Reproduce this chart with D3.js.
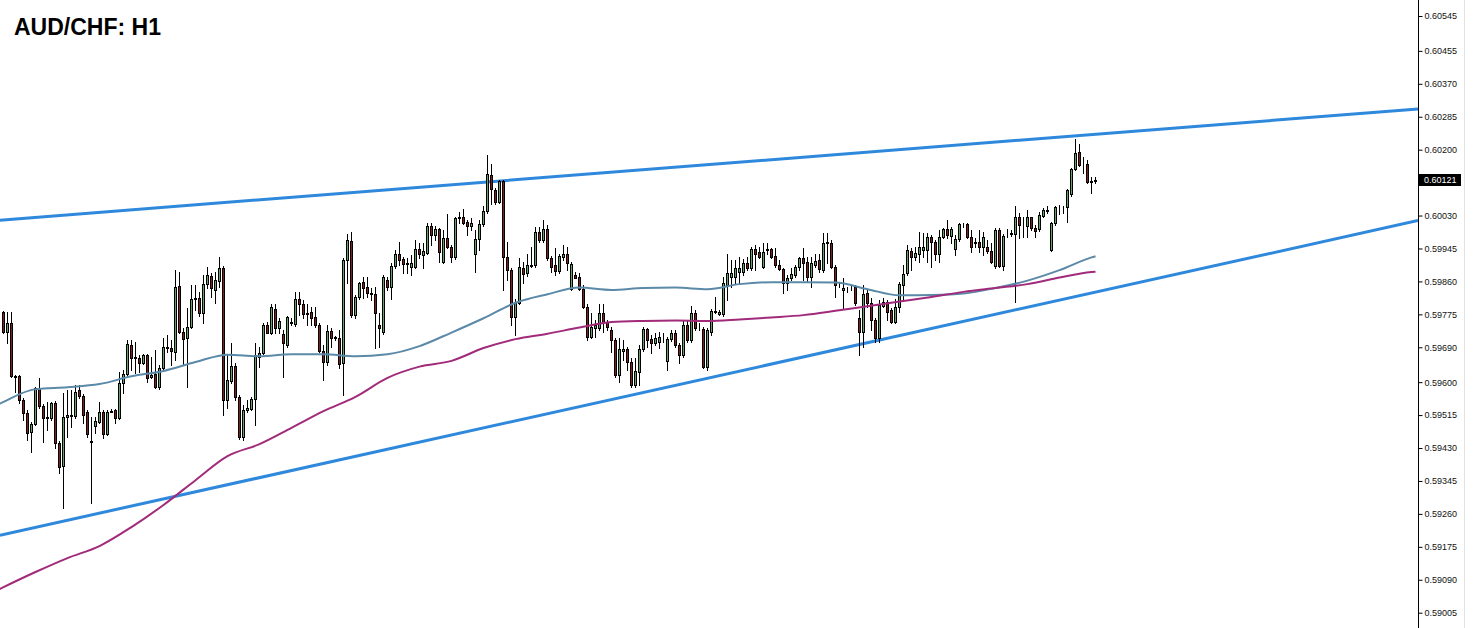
<!DOCTYPE html>
<html><head><meta charset="utf-8">
<script src="https://cdn.jsdelivr.net/npm/d3@7"></script>
<style>html,body{margin:0;padding:0;background:#fff;overflow:hidden}</style>
</head><body>
<svg id="c" width="1483" height="628"></svg>
<script>
// ---- DATA (AUD/CHF H1 candles) ----
const open=[0.59782,0.59730,0.59752,0.59616,0.59616,0.59554,0.59520,0.59472,0.59491,0.59584,
0.59538,0.59507,0.59507,0.59545,0.59442,0.59384,0.59510,0.59515,0.59513,0.59580,
0.59564,0.59522,0.59446,0.59487,0.59498,0.59524,0.59465,0.59524,0.59528,0.59508,
0.59597,0.59621,0.59696,0.59665,0.59663,0.59650,0.59670,0.59613,0.59621,0.59587,
0.59636,0.59688,0.59687,0.59677,0.59848,0.59730,0.59715,0.59743,0.59815,0.59818,
0.59778,0.59853,0.59875,0.59838,0.59861,0.59895,0.59554,0.59603,0.59642,0.59561,
0.59459,0.59528,0.59532,0.59556,0.59666,0.59676,0.59747,0.59727,0.59790,0.59739,
0.59724,0.59696,0.59753,0.59749,0.59814,0.59802,0.59775,0.59782,0.59767,0.59747,
0.59681,0.59653,0.59733,0.59716,0.59713,0.59649,0.59915,0.59964,0.59773,0.59819,
0.59859,0.59846,0.59829,0.59827,0.59747,0.59729,0.59864,0.59845,0.59900,0.59932,
0.59917,0.59907,0.59898,0.59898,0.59943,0.59928,0.59934,0.60003,0.59980,0.59994,
0.59911,0.59971,0.59949,0.59922,0.60024,0.60025,0.60014,0.60003,0.59932,0.59969,
0.60007,0.60042,0.60135,0.60096,0.60066,0.60120,0.59924,0.59889,0.59767,0.59805,
0.59894,0.59881,0.59900,0.59902,0.59988,0.59967,0.59994,0.59920,0.59902,0.59888,
0.59924,0.59932,0.59840,0.59876,0.59872,0.59840,0.59795,0.59716,0.59739,0.59739,
0.59779,0.59756,0.59735,0.59709,0.59618,0.59681,0.59685,0.59653,0.59593,0.59627,
0.59685,0.59736,0.59711,0.59700,0.59704,0.59716,0.59655,0.59711,0.59726,0.59696,
0.59670,0.59747,0.59709,0.59778,0.59739,0.59736,0.59640,0.59730,0.59782,0.59776,
0.59776,0.59851,0.59872,0.59872,0.59885,0.59885,0.59907,0.59894,0.59943,0.59937,
0.59898,0.59943,0.59943,0.59925,0.59902,0.59891,0.59857,0.59870,0.59876,0.59896,
0.59920,0.59911,0.59872,0.59902,0.59915,0.59889,0.59960,0.59960,0.59898,0.59852,
0.59838,0.59842,0.59845,0.59846,0.59765,0.59730,0.59831,0.59805,0.59761,0.59713,
0.59796,0.59808,0.59786,0.59756,0.59793,0.59851,0.59881,0.59939,0.59924,0.59931,
0.59941,0.59941,0.59974,0.59962,0.59932,0.59974,0.59994,0.59977,0.59943,0.59969,
0.60008,0.60008,0.59974,0.59960,0.59962,0.59949,0.59948,0.59939,0.59900,0.59993,
0.59900,0.59979,0.59982,0.59982,0.60025,0.60004,0.60003,0.60025,0.59999,0.59994,
0.60029,0.60043,0.59941,0.60010,0.60051,0.60049,0.60051,0.60085,0.60149,0.60195,
0.60163,0.60163,0.60117,0.60119];
const high=[0.59784,0.59782,0.59782,0.59618,0.59618,0.59559,0.59528,0.59498,0.59588,0.59612,
0.59544,0.59549,0.59549,0.59551,0.59448,0.59571,0.59580,0.59580,0.59593,0.59593,
0.59569,0.59528,0.59511,0.59511,0.59549,0.59528,0.59528,0.59532,0.59532,0.59627,
0.59631,0.59709,0.59709,0.59704,0.59670,0.59673,0.59673,0.59666,0.59683,0.59644,
0.59713,0.59722,0.59709,0.59889,0.59885,0.59740,0.59791,0.59851,0.59851,0.59833,
0.59876,0.59898,0.59882,0.59885,0.59923,0.59900,0.59670,0.59701,0.59649,0.59567,
0.59541,0.59554,0.59561,0.59700,0.59691,0.59752,0.59756,0.59803,0.59803,0.59765,
0.59735,0.59771,0.59765,0.59833,0.59833,0.59812,0.59803,0.59795,0.59795,0.59752,
0.59696,0.59747,0.59740,0.59719,0.59735,0.59920,0.59982,0.59988,0.59825,0.59859,
0.59872,0.59872,0.59843,0.59846,0.59778,0.59876,0.59872,0.59907,0.59941,0.59962,
0.59924,0.59920,0.59928,0.59967,0.59958,0.59958,0.60010,0.60010,0.60003,0.59998,
0.59993,0.60034,0.59954,0.60027,0.60040,0.60046,0.60018,0.60023,0.59993,0.60018,
0.60055,0.60186,0.60163,0.60101,0.60123,0.60123,0.59962,0.59895,0.59814,0.59920,
0.59911,0.59932,0.59949,0.60001,0.60001,0.60018,0.60006,0.59925,0.59945,0.59932,
0.59954,0.59949,0.59910,0.59885,0.59881,0.59851,0.59803,0.59778,0.59760,0.59802,
0.59802,0.59760,0.59743,0.59714,0.59713,0.59709,0.59691,0.59662,0.59662,0.59696,
0.59743,0.59739,0.59722,0.59726,0.59730,0.59726,0.59717,0.59735,0.59735,0.59701,
0.59760,0.59760,0.59796,0.59786,0.59752,0.59742,0.59740,0.59790,0.59820,0.59786,
0.59872,0.59932,0.59915,0.59915,0.59924,0.59917,0.59924,0.59949,0.59954,0.59949,
0.59958,0.59958,0.59946,0.59945,0.59915,0.59895,0.59876,0.59894,0.59902,0.59924,
0.59945,0.59924,0.59924,0.59932,0.59932,0.59984,0.59984,0.59967,0.59902,0.59859,
0.59868,0.59846,0.59851,0.59851,0.59786,0.59851,0.59838,0.59816,0.59765,0.59812,
0.59816,0.59812,0.59791,0.59814,0.59859,0.59902,0.59954,0.59945,0.59949,0.59988,
0.59984,0.59984,0.59980,0.59967,0.59993,0.59997,0.60018,0.60001,0.59980,0.60010,
0.60011,0.60010,0.59993,0.59971,0.59993,0.59988,0.59967,0.59958,0.59997,0.59997,
0.59982,0.59994,0.59993,0.60055,0.60036,0.60025,0.60044,0.60026,0.60006,0.60040,
0.60049,0.60055,0.60013,0.60055,0.60057,0.60055,0.60098,0.60152,0.60227,0.60215,
0.60182,0.60173,0.60130,0.60129];
const low=[0.59727,0.59701,0.59613,0.59574,0.59546,0.59502,0.59451,0.59420,0.59489,0.59533,
0.59446,0.59476,0.59502,0.59429,0.59365,0.59274,0.59459,0.59485,0.59507,0.59559,
0.59494,0.59458,0.59287,0.59468,0.59494,0.59455,0.59463,0.59523,0.59494,0.59505,
0.59571,0.59616,0.59631,0.59623,0.59627,0.59647,0.59601,0.59611,0.59584,0.59582,
0.59631,0.59678,0.59644,0.59657,0.59727,0.59644,0.59588,0.59740,0.59786,0.59771,
0.59753,0.59843,0.59820,0.59804,0.59846,0.59515,0.59533,0.59598,0.59554,0.59453,
0.59452,0.59523,0.59528,0.59489,0.59640,0.59673,0.59726,0.59724,0.59726,0.59726,
0.59614,0.59691,0.59747,0.59745,0.59773,0.59765,0.59747,0.59747,0.59743,0.59678,
0.59605,0.59644,0.59691,0.59710,0.59636,0.59567,0.59855,0.59769,0.59765,0.59815,
0.59816,0.59820,0.59812,0.59687,0.59691,0.59724,0.59838,0.59814,0.59895,0.59902,
0.59881,0.59881,0.59876,0.59894,0.59920,0.59894,0.59931,0.59954,0.59967,0.59910,
0.59907,0.59946,0.59911,0.59918,0.60010,0.60008,0.59980,0.59993,0.59885,0.59941,
0.60003,0.60036,0.60061,0.60061,0.60062,0.59838,0.59864,0.59747,0.59722,0.59802,
0.59855,0.59874,0.59897,0.59897,0.59962,0.59962,0.59915,0.59885,0.59876,0.59881,
0.59915,0.59889,0.59838,0.59868,0.59838,0.59791,0.59709,0.59713,0.59717,0.59735,
0.59730,0.59735,0.59678,0.59614,0.59601,0.59657,0.59631,0.59588,0.59588,0.59593,
0.59680,0.59691,0.59674,0.59696,0.59687,0.59704,0.59631,0.59706,0.59691,0.59649,
0.59665,0.59704,0.59704,0.59735,0.59735,0.59636,0.59631,0.59722,0.59778,0.59773,
0.59771,0.59812,0.59846,0.59855,0.59855,0.59876,0.59889,0.59889,0.59889,0.59920,
0.59894,0.59932,0.59920,0.59898,0.59889,0.59829,0.59838,0.59864,0.59872,0.59889,
0.59864,0.59859,0.59846,0.59898,0.59885,0.59885,0.59907,0.59895,0.59820,0.59846,
0.59790,0.59833,0.59838,0.59799,0.59670,0.59691,0.59795,0.59735,0.59704,0.59704,
0.59795,0.59761,0.59752,0.59752,0.59782,0.59812,0.59876,0.59889,0.59915,0.59911,
0.59924,0.59911,0.59898,0.59915,0.59911,0.59972,0.59971,0.59958,0.59928,0.59964,
0.60001,0.59971,0.59937,0.59949,0.59937,0.59928,0.59934,0.59907,0.59894,0.59898,
0.59889,0.59974,0.59977,0.59808,0.59971,0.59974,0.59975,0.59993,0.59974,0.59990,
0.60025,0.60037,0.59938,0.60006,0.60034,0.60036,0.60014,0.60080,0.60147,0.60158,
0.60139,0.60113,0.60087,0.60113];
const close=[0.59730,0.59752,0.59616,0.59613,0.59554,0.59520,0.59469,0.59491,0.59584,0.59538,
0.59507,0.59511,0.59545,0.59442,0.59382,0.59510,0.59515,0.59513,0.59575,0.59564,
0.59515,0.59465,0.59448,0.59500,0.59522,0.59465,0.59524,0.59526,0.59507,0.59597,
0.59621,0.59698,0.59663,0.59663,0.59650,0.59670,0.59612,0.59618,0.59587,0.59636,
0.59690,0.59691,0.59681,0.59846,0.59730,0.59711,0.59743,0.59815,0.59817,0.59778,
0.59853,0.59876,0.59843,0.59864,0.59895,0.59554,0.59605,0.59642,0.59561,0.59459,
0.59528,0.59533,0.59556,0.59670,0.59676,0.59747,0.59727,0.59793,0.59739,0.59758,
0.59702,0.59767,0.59755,0.59814,0.59802,0.59775,0.59778,0.59765,0.59747,0.59681,
0.59653,0.59733,0.59713,0.59713,0.59647,0.59915,0.59967,0.59773,0.59819,0.59857,
0.59842,0.59829,0.59827,0.59779,0.59739,0.59871,0.59845,0.59900,0.59931,0.59915,
0.59904,0.59904,0.59908,0.59943,0.59931,0.59939,0.60003,0.59980,0.59994,0.59937,
0.59971,0.59949,0.59924,0.60023,0.60025,0.60011,0.60003,0.60010,0.59969,0.60007,
0.60042,0.60137,0.60098,0.60066,0.60120,0.59924,0.59889,0.59767,0.59805,0.59898,
0.59879,0.59902,0.59903,0.59988,0.59967,0.59994,0.59920,0.59898,0.59888,0.59925,
0.59932,0.59908,0.59905,0.59870,0.59840,0.59795,0.59716,0.59743,0.59747,0.59779,
0.59756,0.59743,0.59709,0.59618,0.59685,0.59685,0.59653,0.59593,0.59629,0.59685,
0.59736,0.59709,0.59700,0.59713,0.59717,0.59717,0.59711,0.59726,0.59696,0.59670,
0.59747,0.59709,0.59778,0.59739,0.59741,0.59640,0.59735,0.59784,0.59784,0.59782,
0.59857,0.59881,0.59882,0.59894,0.59894,0.59907,0.59894,0.59943,0.59932,0.59924,
0.59937,0.59941,0.59924,0.59902,0.59891,0.59855,0.59870,0.59879,0.59896,0.59920,
0.59908,0.59872,0.59907,0.59913,0.59891,0.59960,0.59962,0.59898,0.59851,0.59851,
0.59844,0.59843,0.59846,0.59805,0.59730,0.59827,0.59805,0.59761,0.59713,0.59799,
0.59808,0.59782,0.59756,0.59793,0.59853,0.59879,0.59941,0.59924,0.59934,0.59948,
0.59948,0.59974,0.59962,0.59932,0.59975,0.59994,0.59980,0.59994,0.59969,0.60008,
0.60007,0.59974,0.59949,0.59962,0.59949,0.59975,0.59939,0.59911,0.59993,0.59900,
0.59977,0.59980,0.59984,0.60025,0.60006,0.60003,0.60025,0.59999,0.59991,0.60031,
0.60044,0.60044,0.60010,0.60051,0.60052,0.60050,0.60096,0.60149,0.60192,0.60160,
0.60162,0.60117,0.60118,0.60121];

// moving averages, sampled at candle indices
const maIndex=[-1,0,8,16,24,32,40,48,56,64,72,80,88,96,104,112,120,128,136,144,152,160,168,176,184,192,200,208,216,224,232,240,248,256,264,272,273];
const maFast=[0.59544,0.59549,0.59582,0.59587,0.59595,0.59615,0.59629,0.59652,0.59671,0.59667,0.59672,0.59672,0.59667,0.59672,0.59693,0.59728,0.59765,0.59805,0.59827,0.59844,0.59838,0.59843,0.59844,0.59840,0.59853,0.59858,0.59858,0.59857,0.59840,0.59824,0.59825,0.59829,0.59843,0.59862,0.59889,0.59922,0.59925];
const maSlow=[0.59066,0.59071,0.59110,0.59146,0.59177,0.59226,0.59283,0.59347,0.59409,0.59440,0.59482,0.59525,0.59562,0.59611,0.59640,0.59655,0.59688,0.59711,0.59725,0.59741,0.59755,0.59758,0.59759,0.59758,0.59762,0.59767,0.59773,0.59784,0.59796,0.59808,0.59820,0.59833,0.59843,0.59853,0.59870,0.59884,0.59885];

// trend lines (index of start/end, price of start/end)
const trendIndex=[-0.875,353.625];
const upperTrend=[0.60018,0.60305];
const lowerTrend=[0.59205,0.60017];

const tickLabels=["0.60545","0.60455","0.60370","0.60285","0.60200","0.60030","0.59945","0.59860","0.59775","0.59690","0.59600","0.59515","0.59430","0.59345","0.59260","0.59175","0.59090","0.59005"];
const lastPrice=0.60121;
const title="AUD/CHF: H1";

// ---- DRAWING ----
const W=1483,H=628,plotRight=1418;
const svg=d3.select("#c");
const x=d3.scaleLinear().domain([0,273]).range([3.5,1095.5]);
const y=d3.scaleLinear().domain([0.59005,0.60545]).range([612.7,16]);

svg.append("defs").append("clipPath").attr("id","plot")
  .append("rect").attr("x",0).attr("y",0).attr("width",plotRight).attr("height",H);
const g=svg.append("g").attr("clip-path","url(#plot)");

// trend lines
[upperTrend,lowerTrend].forEach(t=>{
  g.append("line")
   .attr("x1",x(trendIndex[0])).attr("y1",y(t[0]))
   .attr("x2",x(trendIndex[1])).attr("y2",y(t[1]))
   .attr("stroke","#2e88dc").attr("stroke-width",3);
});

// candles
const candles=d3.range(open.length).map(i=>({i,o:open[i],h:high[i],l:low[i],c:close[i]}));
const px=i=>Math.round(x(i)-0.5)+0.5;
const cg=g.append("g");
cg.selectAll("line.w").data(candles).join("line")
  .attr("x1",d=>px(d.i)).attr("x2",d=>px(d.i))
  .attr("y1",d=>Math.round(y(Math.max(d.h,d.o,d.c)))).attr("y2",d=>Math.round(y(Math.min(d.l,d.o,d.c)))+1)
  .attr("stroke","#000").attr("stroke-width",1);
cg.selectAll("rect.b").data(candles).join("rect")
  .attr("x",d=>px(d.i)-1).attr("width",2)
  .attr("y",d=>Math.round(y(Math.max(d.o,d.c)))+0.5)
  .attr("height",d=>Math.max(0,Math.round(y(Math.min(d.o,d.c)))-Math.round(y(Math.max(d.o,d.c)))))
  .attr("fill",d=>d.c>=d.o?"#64a46a":"#7e1f1f")
  .attr("stroke","#000").attr("stroke-width",1);

// moving averages
const line=d3.line().x(d=>x(d[0])).y(d=>y(d[1])).curve(d3.curveMonotoneX);
g.append("path").attr("d",line(maIndex.map((k,j)=>[k,maFast[j]])))
  .attr("fill","none").attr("stroke","#5b89a8").attr("stroke-width",2);
g.append("path").attr("d",line(maIndex.map((k,j)=>[k,maSlow[j]])))
  .attr("fill","none").attr("stroke","#a12a7b").attr("stroke-width",2);

// right price axis
svg.append("line").attr("x1",plotRight+0.5).attr("x2",plotRight+0.5).attr("y1",0).attr("y2",H)
  .attr("stroke","#000").attr("stroke-width",1);
svg.append("line").attr("x1",1464.5).attr("x2",1464.5).attr("y1",0).attr("y2",H)
  .attr("stroke","#e2e2e2").attr("stroke-width",1);
const axis=d3.axisRight(y).tickValues(tickLabels.map(Number)).tickFormat((d,i)=>tickLabels[i])
  .tickSize(4).tickPadding(2);
const ag=svg.append("g").attr("transform",`translate(${plotRight+0.5},0)`).call(axis);
ag.select(".domain").remove();
ag.selectAll(".tick line").attr("stroke","#000");
ag.selectAll(".tick text").attr("fill","#111")
  .style("font-family","'Liberation Sans', Arial, sans-serif").style("font-size","9px");

// current price label
const ly=Math.round(y(lastPrice));
svg.append("rect").attr("x",plotRight+1).attr("y",ly-6).attr("width",42).attr("height",12).attr("fill","#000");
svg.append("text").attr("x",plotRight+6).attr("y",ly).attr("dy","0.33em")
  .attr("fill","#fff").style("font-family","'Liberation Sans', Arial, sans-serif").style("font-size","9px")
  .text(lastPrice.toFixed(5));

// title
svg.append("text").attr("x",14).attr("y",35).text(title)
  .attr("fill","#000").style("font-family","'Liberation Sans', Arial, sans-serif")
  .style("font-weight","bold").style("font-size","23px");
</script>
</body></html>
